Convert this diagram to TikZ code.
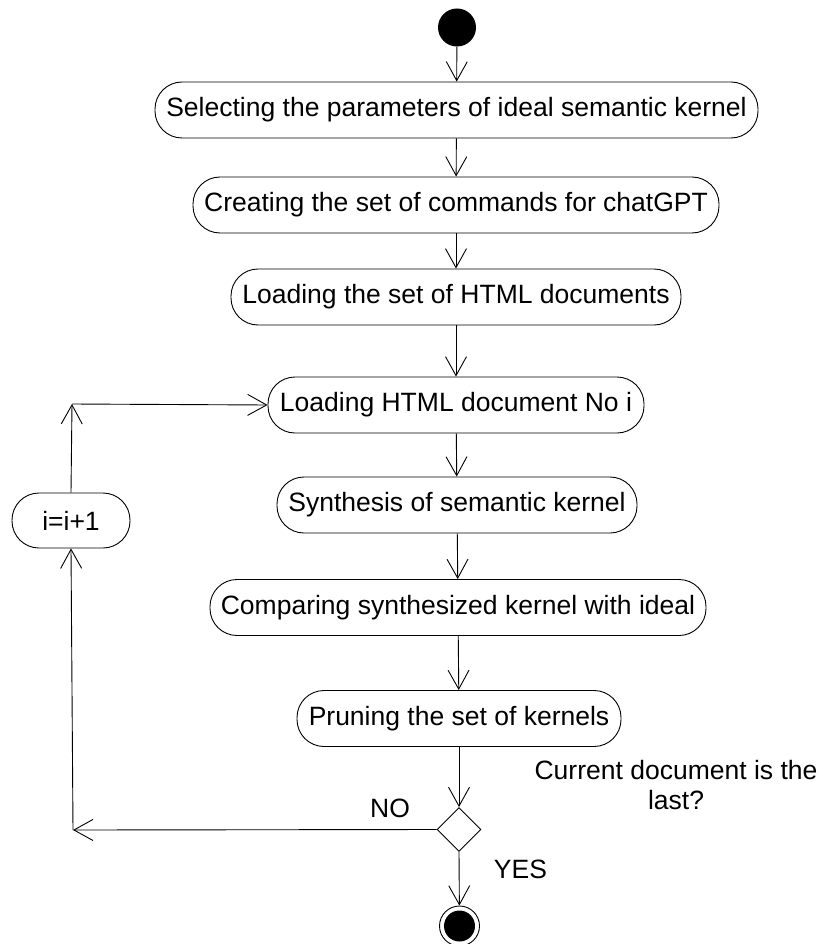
\documentclass[tikz,border=0pt]{standalone}
\usepackage{fontspec}
\setmainfont{Liberation Sans}
\usetikzlibrary{arrows.meta,shapes.geometric}

\begin{document}
\begin{tikzpicture}[x=1pt,y=-1pt,
  every node/.style={font=\fontsize{26.5}{30}\selectfont},
  action/.style={draw, line width=0.9pt, rectangle, rounded corners=27pt,
    minimum height=56pt, inner sep=0pt},
  flow/.style={line width=0.9pt,
    -{Straight Barb[length=19pt,width=21pt,line width=0.9pt]}},
  link/.style={line width=0.9pt},
  caption/.style={inner sep=0pt, align=center}
]
\useasboundingbox (0,0) rectangle (822,944);

% initial and final states
\node[circle, fill=black, minimum size=38pt, inner sep=0pt] (start) at (457,27.5) {};
\node[circle, draw, line width=0.9pt, minimum size=40pt, inner sep=0pt] (stop) at (459.5,926) {};
\node[circle, fill=black, minimum size=31pt, inner sep=0pt] at (stop) {};

% activities
\node[action, minimum width=603pt] (s1) at (456.5,110) {Selecting the parameters of ideal semantic kernel};
\node[action, minimum width=526pt] (s2) at (456,205) {Creating the set of commands for chatGPT};
\node[action, minimum width=450pt] (s3) at (456,297) {Loading the set of HTML documents};
\node[action, minimum width=376pt] (s4) at (456,405) {Loading HTML document No i};
\node[action, minimum width=360pt] (s5) at (457,505) {Synthesis of semantic kernel};
\node[action, minimum width=496pt] (s6) at (458,607.5) {Comparing synthesized kernel with ideal};
\node[action, minimum width=324pt] (s7) at (459,718.5) {Pruning the set of kernels};
\node[action, minimum width=118pt, minimum height=55pt] (inc) at (71,520.5) {i=i+1};

% decision
\node[diamond, draw, line width=0.9pt, aspect=1, minimum size=44pt, inner sep=0pt] (dec) at (459,829.5) {};

% loop corners
\coordinate (cno) at (73,830);
\coordinate (cup) at (72,404);

% labels
\node[caption] (q) at (676,785) {Current document is the\\last?};
\node[caption] (no) at (390,808) {NO};
\node[caption] (yes) at (520.5,869.5) {YES};

% main flow
\draw[flow] (start) -- (s1);
\draw[flow] (s1) -- (s2);
\draw[flow] (s2) -- (s3);
\draw[flow] (s3) -- (s4);
\draw[flow] (s4) -- (s5);
\draw[flow] (s5) -- (s6);
\draw[flow] (s6) -- (s7);
\draw[flow] (s7) -- (dec.north);
\draw[flow] (dec.south) -- (stop);

% loop back
\draw[flow] (dec.west) -- (cno);
\draw[flow] (cno) -- (inc.south);
\draw[flow] (inc.north) -- (cup);
\draw[flow] (cup) -- (s4.west);
\end{tikzpicture}
\end{document}
